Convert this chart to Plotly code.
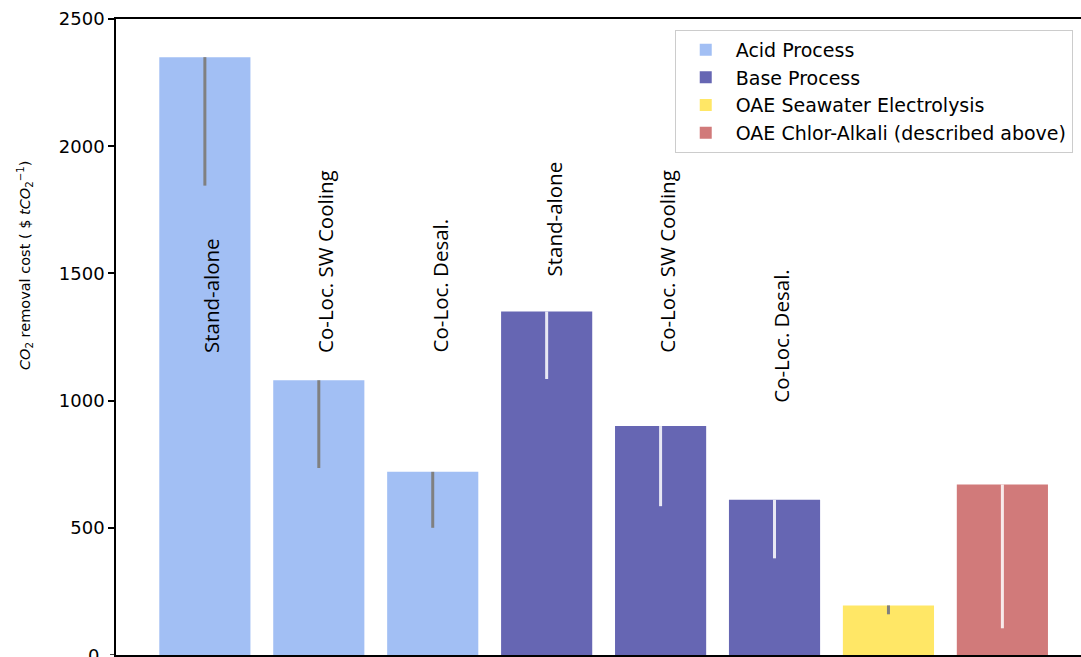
import plotly.graph_objects as go

# Removal cost per configuration ($ per tCO2), with the lower end of each range
acid_labels = ["Stand-alone", "Co-Loc. SW Cooling", "Co-Loc. Desal."]
acid_cost = [2350, 1080, 720]
acid_low = [1845, 735, 500]

base_labels = ["Stand-alone", "Co-Loc. SW Cooling", "Co-Loc. Desal."]
base_cost = [1350, 900, 610]
base_low = [1085, 585, 380]

seawater_cost = [195]
seawater_low = [160]

chlor_cost = [670]
chlor_low = [105]

y_ticks = [0, 500, 1000, 1500, 2000, 2500]

# Height (data units) where each rotated configuration label starts
acid_label_y = [1180, 1180, 1180]
base_label_y = [1480, 1180, 985]

series = [
    ("Acid Process", [0, 1, 2], acid_cost, acid_low, "#a2bff4", "#808080"),
    ("Base Process", [3, 4, 5], base_cost, base_low, "#6666b3", "rgba(255,255,255,0.85)"),
    ("OAE Seawater Electrolysis", [6], seawater_cost, seawater_low, "#ffe766", "#808080"),
    ("OAE Chlor-Alkali (described above)", [7], chlor_cost, chlor_low, "#d17a7a", "rgba(255,255,255,0.85)"),
]

fig = go.Figure()
for name, xs, cost, low, color, err_color in series:
    fig.add_trace(go.Bar(
        x=xs, y=cost, name=name, width=0.8, legendgroup=name,
        marker=dict(color=color, line=dict(width=0)),
        error_y=dict(type="data", symmetric=False,
                     array=[0] * len(cost),
                     arrayminus=[c - l for c, l in zip(cost, low)],
                     color=err_color, thickness=3, width=0),
    ))

label_font = dict(family="Open Sans, Liberation Sans, sans-serif", size=20.5, color="black")
for i, (txt, yb) in enumerate(zip(acid_labels + base_labels, acid_label_y + base_label_y)):
    fig.add_annotation(x=i + 0.06, y=yb, text=txt, textangle=-90, showarrow=False,
                       xanchor="center", yanchor="bottom", font=label_font)

# y-axis title, placed as a rotated annotation beside the tick labels
fig.add_annotation(
    xref="paper", yref="paper", x=-0.0943, y=0.6116,
    text="<i>CO</i><sub>2</sub> removal cost ( $ <i>tCO</i><sub>2</sub><sup>−1</sup>)",
    textangle=-90, showarrow=False, xanchor="center", yanchor="middle",
    font=dict(size=14.5),
)

# the "0" label sits at the lower edge of the canvas
fig.add_annotation(xref="paper", yref="y", x=-0.016, y=y_ticks[0], text=str(y_ticks[0]),
                   showarrow=False, xanchor="right", yanchor="middle",
                   font=dict(size=18))

fig.update_layout(
    width=1081, height=657,
    margin=dict(l=116, r=0, t=19, b=2),
    plot_bgcolor="white", paper_bgcolor="white",
    font=dict(family="DejaVu Sans, sans-serif", size=18, color="black"),
    bargap=0.2,
    showlegend=True,
    legend=dict(x=0.579, y=0.983, xanchor="left", yanchor="top",
                bgcolor="white", bordercolor="#cccccc", borderwidth=1,
                font=dict(size=19), tracegroupgap=0, itemwidth=50),
    xaxis=dict(range=[-0.78, 7.69], showticklabels=False, ticks="",
               showgrid=False, zeroline=False, showline=True,
               linecolor="black", linewidth=1.5, mirror=True),
    yaxis=dict(range=[0, 2500], tickvals=y_ticks[1:],
               ticks="outside", ticklen=6, tickcolor="black", tickwidth=1.5,
               showgrid=False, zeroline=False, showline=True,
               linecolor="black", linewidth=1.5),
)
fig.add_shape(type="line", xref="paper", yref="y", x0=-0.0062, x1=0, y0=0, y1=0,
              line=dict(color="black", width=1.5))

fig.write_html("out.html")
